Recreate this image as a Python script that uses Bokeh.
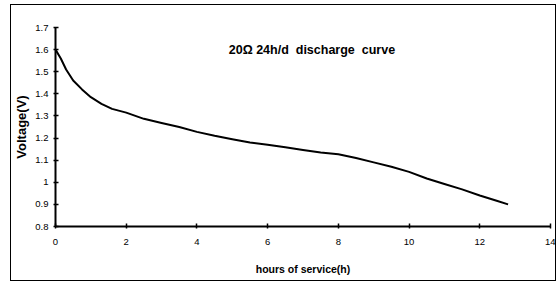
from bokeh.plotting import figure
from bokeh.models import Range1d, FixedTicker, Label, CustomJSTickFormatter
from bokeh.embed import file_html
from bokeh.resources import INLINE

# Data
hours = [0.0, 0.15, 0.3, 0.5, 0.75, 1.0, 1.3, 1.6, 2.0, 2.5, 3.0, 3.5, 4.0, 4.5,
         5.0, 5.5, 6.0, 6.5, 7.0, 7.5, 8.0, 8.5, 9.0, 9.5, 10.0, 10.5, 11.0,
         11.5, 12.0, 12.5, 12.8]
voltage = [1.600, 1.560, 1.510, 1.460, 1.420, 1.385, 1.355, 1.332, 1.315, 1.287,
           1.268, 1.250, 1.228, 1.210, 1.195, 1.180, 1.170, 1.158, 1.146, 1.135,
           1.127, 1.110, 1.090, 1.070, 1.047, 1.017, 0.992, 0.968, 0.940, 0.915,
           0.900]
x_ticks = [0, 2, 4, 6, 8, 10, 12, 14]
y_ticks = [0.8, 0.9, 1.0, 1.1, 1.2, 1.3, 1.4, 1.5, 1.6, 1.7]
title_text = "20Ω 24h/d\u00a0 discharge\u00a0 curve"
x_label = "hours of service(h)"
y_label = "Voltage(V)"

FONT = "Liberation Sans"

p = figure(width=546, height=277, output_backend="svg", toolbar_location=None,
           x_range=Range1d(0, 14), y_range=Range1d(0.8, 1.7),
           min_border_left=44, min_border_right=7, min_border_top=22,
           min_border_bottom=56)
p.styles = {"border": "1px solid black", "margin-left": "10px", "margin-top": "4px"}
p.background_fill_color = "white"
p.border_fill_color = "white"
p.outline_line_color = None
p.xgrid.visible = False
p.ygrid.visible = False

p.line(hours, voltage, line_color="black", line_width=2, line_join="round")

for ax in (p.xaxis[0], p.yaxis[0]):
    ax.axis_line_width = 2
    ax.axis_line_color = "black"
    ax.major_tick_line_color = "black"
    ax.major_tick_line_width = 1.5
    ax.major_tick_in = 3
    ax.major_tick_out = 2
    ax.minor_tick_line_color = None
    ax.major_label_text_font = FONT
    ax.major_label_text_font_size = "9.5px"
    ax.major_label_text_color = "black"
    ax.axis_label_text_font = FONT
    ax.axis_label_text_font_style = "bold"
    ax.axis_label_text_color = "black"

p.xaxis.ticker = FixedTicker(ticks=x_ticks)
p.yaxis.ticker = FixedTicker(ticks=y_ticks)
p.yaxis.formatter = CustomJSTickFormatter(code="return String(Math.round(tick*10)/10);")
p.xaxis.major_label_standoff = 10
p.yaxis.major_label_standoff = 5
p.xaxis.axis_label = x_label
p.yaxis.axis_label = y_label
p.xaxis.axis_label_text_font_size = "10.5px"
p.yaxis.axis_label_text_font_size = "13px"
p.xaxis.axis_label_standoff = 15
p.yaxis.axis_label_standoff = 3

p.add_layout(Label(x=4.9, y=1.598, text=title_text, text_font=FONT,
                   text_font_size="12.5px", text_font_style="bold",
                   text_color="black", text_align="left",
                   text_baseline="middle"))

open("out.html", "w").write(file_html(p, INLINE))
